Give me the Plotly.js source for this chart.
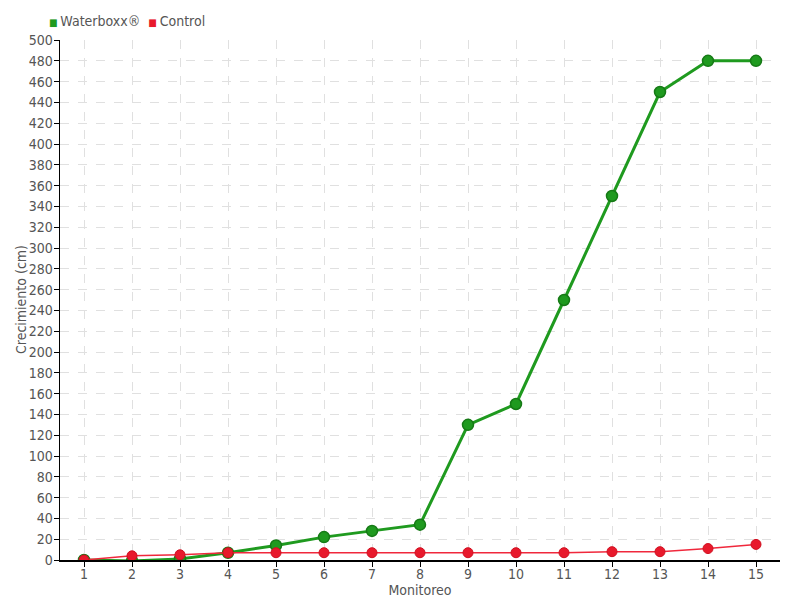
<!DOCTYPE html>
<html>
<head>
<meta charset="utf-8">
<script src="https://cdn.plot.ly/plotly-3.0.1.min.js"></script>
<style>html,body{margin:0;padding:0;background:#fff}#chart{width:800px;height:600px}</style>
</head>
<body>
<div id="chart"></div>
<script>
const monitoreo = [1,2,3,4,5,6,7,8,9,10,11,12,13,14,15];
const waterboxx = [0,-1,1,7,14,22,28,34,130,150,250,350,450,480,480];
const control = [0,4,5,7,7,7,7,7,7,7,7,8,8,11,15];
const seriesNames = ['Waterboxx®', 'Control'];
const yTicks = [];
for (let v = 0; v <= 500; v += 20) yTicks.push(v);

const fontFam = '"DejaVu Sans Condensed", "Liberation Sans Narrow", sans-serif';
const greenC = '#1f9a1f', redC = '#e8192c';

const traces = [
  {
    x: monitoreo, y: waterboxx, name: seriesNames[0], type: 'scatter', mode: 'lines+markers',
    line: {color: greenC, width: 3},
    marker: {color: greenC, size: 11, line: {color: '#167a16', width: 1.5}}
  },
  {
    x: monitoreo, y: control, name: seriesNames[1], type: 'scatter', mode: 'lines+markers',
    line: {color: '#f0283c', width: 1.5},
    marker: {color: redC, size: 10, line: {color: '#d01020', width: 1}}
  }
];

const sq = c => `<span style="color:${c};font-size:10px">■ </span>`;

const layout = {
  width: 800, height: 600,
  margin: {l: 60, r: 20, t: 40, b: 40},
  paper_bgcolor: '#fff', plot_bgcolor: '#fff',
  font: {family: fontFam, color: '#555', size: 14},
  showlegend: false,
  annotations: [
    {xref: 'paper', yref: 'paper', x: 0, y: 0.5, xshift: -39, xanchor: 'center', yanchor: 'middle',
     textangle: -90, showarrow: false, text: 'Crecimiento (cm)', font: {size: 14, color: '#555'}},
    {xref: 'paper', yref: 'paper', x: 0, y: 1, xshift: -13, yshift: 19, xanchor: 'left', yanchor: 'middle',
     showarrow: false, text: sq(greenC) + seriesNames[0] + '  ' + sq(redC) + seriesNames[1],
     font: {size: 14, color: '#555'}}
  ],
  xaxis: {
    range: [0.5, 15.5], tickvals: monitoreo, ticktext: monitoreo.map(String),
    showline: true, linecolor: '#000', linewidth: 1.5,
    ticks: 'outside', ticklen: 5, tickcolor: '#000', ticklabelstandoff: -4,
    showgrid: true, gridcolor: '#e0e0e0', griddash: 'dash', zeroline: false,
    title: {text: 'Monitoreo', standoff: 0, font: {size: 14, color: '#555'}},
    tickfont: {size: 14, color: '#555'}
  },
  yaxis: {
    range: [0, 500], tickvals: yTicks,
    showline: true, linecolor: '#000', linewidth: 1.5,
    ticks: 'outside', ticklen: 5, tickcolor: '#000', ticklabelstandoff: -2,
    showgrid: true, gridcolor: '#e0e0e0', griddash: 'dash', zeroline: false,
    tickfont: {size: 14, color: '#555'}
  }
};

Plotly.newPlot('chart', traces, layout, {displayModeBar: false, staticPlot: true});
</script>
</body>
</html>
